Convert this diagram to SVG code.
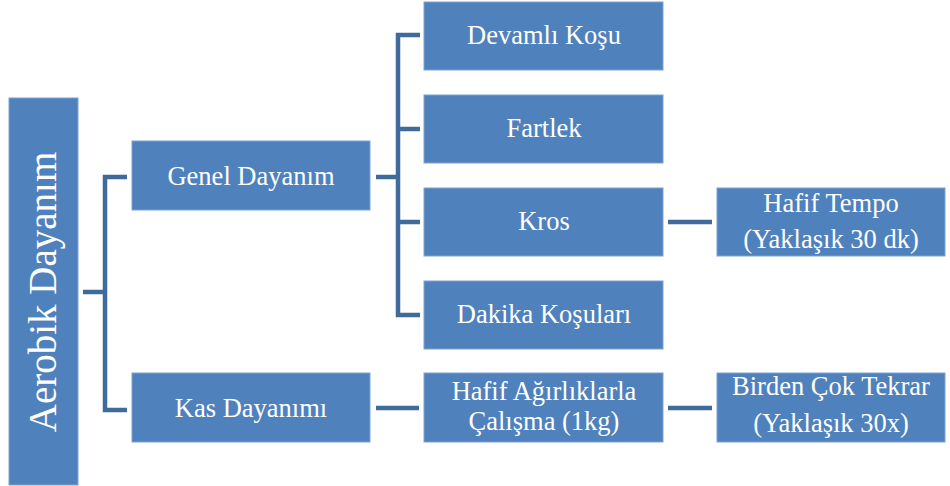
<svg xmlns="http://www.w3.org/2000/svg" width="950" height="486" viewBox="0 0 950 486">
<style>
.box{fill:#4F81BD;stroke:#7EA2D2;stroke-width:1}
.t{fill:#FFFFFF;font-family:'Liberation Serif','Times New Roman',serif;font-size:26.5px;text-anchor:middle}
.c{fill:none;stroke:#3F6A9C;stroke-width:4.5;stroke-linejoin:miter}
</style>
<rect width="950" height="486" fill="#FFFFFF"/>
<g id="connectors">
<path class="c" d="M83,292 H105 M127,177 H105 V410 H127"/>
<path class="c" d="M376,177 H398 M420,35 H398 V315 H420 M398,129 H420 M398,222 H420"/>
<path class="c" d="M668,222 H712"/>
<path class="c" d="M376,408 H419"/>
<path class="c" d="M668,408 H712"/>
</g>
<g id="aerobik">
<rect class="box" x="9" y="98" width="69" height="387"/>
<text class="t" style="font-size:39px" transform="translate(56,292) rotate(-90)">Aerobik Dayanım</text>
</g>
<g id="genel">
<rect class="box" x="132" y="141" width="238" height="69"/>
<text class="t" x="251" y="185">Genel Dayanım</text>
</g>
<g id="kas">
<rect class="box" x="132" y="373" width="238" height="69"/>
<text class="t" x="251" y="417">Kas Dayanımı</text>
</g>
<g id="devamli">
<rect class="box" x="424" y="2" width="239" height="68"/>
<text class="t" x="544" y="44">Devamlı Koşu</text>
</g>
<g id="fartlek">
<rect class="box" x="424" y="95" width="239" height="68"/>
<text class="t" x="544" y="137">Fartlek</text>
</g>
<g id="kros">
<rect class="box" x="424" y="188" width="239" height="68"/>
<text class="t" x="544" y="230">Kros</text>
</g>
<g id="dakika">
<rect class="box" x="424" y="281" width="239" height="68"/>
<text class="t" x="544" y="323">Dakika Koşuları</text>
</g>
<g id="hafiftempo">
<rect class="box" x="717" y="188" width="228" height="68"/>
<text class="t" x="831" y="212">Hafif Tempo</text>
<text class="t" x="831" y="248">(Yaklaşık 30 dk)</text>
</g>
<g id="hafifagirlik">
<rect class="box" x="424" y="373" width="239" height="69"/>
<text class="t" x="544" y="400">Hafif Ağırlıklarla</text>
<text class="t" x="544" y="430">Çalışma (1kg)</text>
</g>
<g id="birden">
<rect class="box" x="717" y="373" width="228" height="69"/>
<text class="t" x="831" y="395">Birden Çok Tekrar</text>
<text class="t" x="831" y="432">(Yaklaşık 30x)</text>
</g>
</svg>
